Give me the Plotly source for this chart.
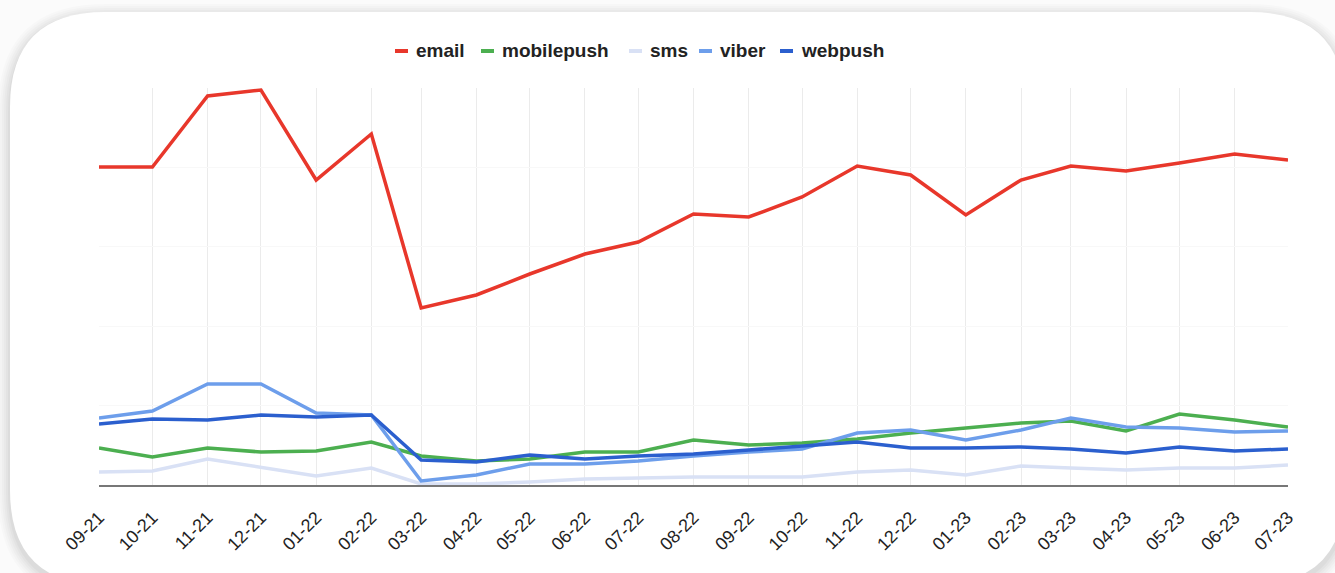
import plotly.graph_objects as go

# ---------------- data ----------------
months = ["2021-09-01", "2021-10-01", "2021-11-01", "2021-12-01", "2022-01-01", "2022-02-01",
          "2022-03-01", "2022-04-01", "2022-05-01", "2022-06-01", "2022-07-01", "2022-08-01",
          "2022-09-01", "2022-10-01", "2022-11-01", "2022-12-01", "2023-01-01", "2023-02-01",
          "2023-03-01", "2023-04-01", "2023-05-01", "2023-06-01", "2023-07-01"]
tick_labels = ["09-21", "10-21", "11-21", "12-21", "01-22", "02-22", "03-22", "04-22", "05-22",
               "06-22", "07-22", "08-22", "09-22", "10-22", "11-22", "12-22", "01-23", "02-23",
               "03-23", "04-23", "05-23", "06-23", "07-23"]

email = [318, 318, 389, 395, 305, 351, 177, 190, 211, 231, 243, 271, 268, 288, 319, 310, 270, 305,
         319, 314, 322, 331, 325]
mobilepush = [37, 28, 37, 33, 34, 43, 29, 24, 26, 33, 33, 45, 40, 42, 46, 52, 57, 62, 64, 54, 71, 65, 58]
sms = [13, 14, 26, 18, 9, 17, 1, 1, 3, 6, 7, 8, 8, 8, 13, 15, 10, 19, 17, 15, 17, 17, 20]
viber = [67, 74, 101, 101, 72, 70, 4, 10, 21, 21, 24, 29, 33, 36, 52, 55, 45, 55, 67, 58, 57, 53, 54]
webpush = [61, 66, 65, 70, 68, 70, 25, 23, 30, 26, 29, 31, 35, 39, 43, 37, 37, 38, 36, 32, 38, 34, 36]

series_names = ["email", "mobilepush", "sms", "viber", "webpush"]
series_values = [email, mobilepush, sms, viber, webpush]

# ---------------- style ----------------
colors = ["#e8372b", "#4caf50", "#d9e1f5", "#6d9eeb", "#2b5fce"]
W, H = 1335, 573
ML, MR, MT, MB = 99, 47, 88, 88
PW, PH = W - ML - MR, H - MT - MB
Y_MAX = 397

def px(x):
    return (x - ML) / PW

def py(y):
    return (H - MB - y) / PH

def rrect(l, t, r, b, rad):
    pts = [
        f"M {px(l + rad)},{py(t)}",
        f"L {px(r - rad)},{py(t)}",
        f"Q {px(r)},{py(t)} {px(r)},{py(t + rad)}",
        f"L {px(r)},{py(b - rad)}",
        f"Q {px(r)},{py(b)} {px(r - rad)},{py(b)}",
        f"L {px(l + rad)},{py(b)}",
        f"Q {px(l)},{py(b)} {px(l)},{py(b - rad)}",
        f"L {px(l)},{py(t + rad)}",
        f"Q {px(l)},{py(t)} {px(l + rad)},{py(t)}",
        "Z",
    ]
    return " ".join(pts)

fig = go.Figure()
for name, vals, col in zip(series_names, series_values, colors):
    fig.add_trace(go.Scatter(x=months, y=vals, name=name, mode="lines",
                             line=dict(color=col, width=3.5), showlegend=False))

shapes = []
# card shadow
card = (10, 12, 1345, 585, 95)
for i, op in enumerate([0.015, 0.017, 0.019, 0.021, 0.024, 0.028]):
    g = 12 - 2 * i
    l, t, r, b, rad = card
    shapes.append(dict(type="path", xref="paper", yref="paper", layer="below",
                       path=rrect(l - g, t - g + 4, r + g, b + g + 4, rad + g),
                       fillcolor="#000000", opacity=op, line=dict(width=0)))
shapes.append(dict(type="path", xref="paper", yref="paper", layer="below",
                   path=rrect(*card), fillcolor="#ffffff", line=dict(width=0)))

# custom legend
legend_marker_x = [395, 481, 629, 699, 780]
legend_y = 51
annotations = []
for name, col, mx in zip(series_names, colors, legend_marker_x):
    shapes.append(dict(type="line", xref="paper", yref="paper",
                       x0=px(mx), x1=px(mx + 13), y0=py(legend_y), y1=py(legend_y),
                       line=dict(color=col, width=4)))
    annotations.append(dict(xref="paper", yref="paper", x=px(mx + 19), y=py(legend_y),
                            xanchor="left", yanchor="middle", showarrow=False,
                            text=f"<b>{name}</b>",
                            font=dict(family="Liberation Sans, Arial, sans-serif", size=19,
                                      color="#222222")))

fig.update_layout(
    width=W, height=H,
    margin=dict(l=ML, r=MR, t=MT, b=MB, pad=0),
    paper_bgcolor="#fbfbfb",
    plot_bgcolor="rgba(0,0,0,0)",
    shapes=shapes,
    annotations=annotations,
    showlegend=False,
    font=dict(family="Liberation Sans, Arial, sans-serif", color="#222222"),
)
fig.update_xaxes(type="date", range=[months[0], months[-1]],
                 tickmode="array", tickvals=months, ticktext=tick_labels,
                 tickangle=-45, tickfont=dict(size=18, color="#222222"),
                 ticklabelstandoff=13,
                 showgrid=True, gridcolor="#ebebeb", gridwidth=1,
                 showline=True, linecolor="#777777", linewidth=2,
                 ticks="", zeroline=False)
fig.update_yaxes(range=[0, Y_MAX], showticklabels=False, showgrid=True,
                 gridcolor="#f8f8f8", tick0=0, dtick=Y_MAX / 5,
                 zeroline=False, showline=False, ticks="")

fig.write_html("out.html", config={"displayModeBar": False},
               post_script="document.body.style.margin='0px';")
